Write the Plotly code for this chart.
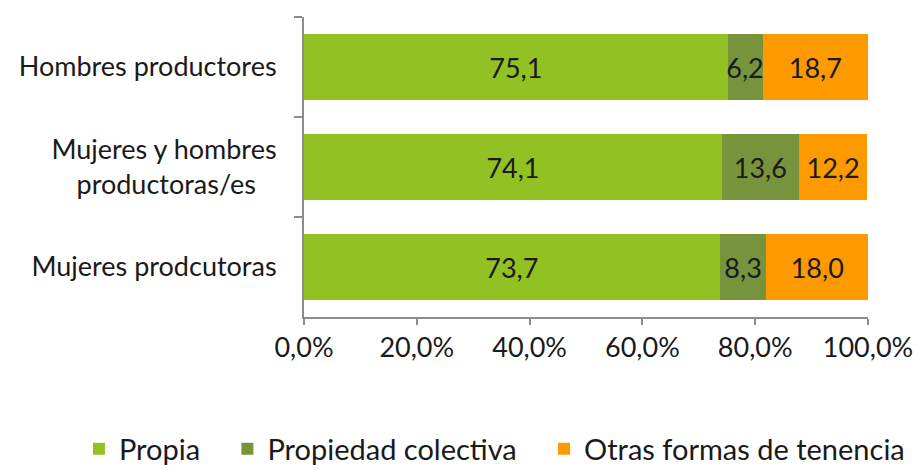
import plotly.graph_objects as go

categorias = ["Hombres productores",
              "Mujeres y hombres<br>productoras/es&nbsp;&nbsp;&nbsp;",
              "Mujeres prodcutoras"]
propia = [75.1, 74.1, 73.7]
colectiva = [6.2, 13.6, 8.3]
otras = [18.7, 12.2, 18.0]
x_ticks = [0, 20, 40, 60, 80, 100]
x_labels = ["0,0%", "20,0%", "40,0%", "60,0%", "80,0%", "100,0%"]

fuente = "Lato"
tam = 27
series = [
    ("Propia&nbsp;&nbsp;&nbsp;", propia, "#92C123"),
    ("Propiedad colectiva&nbsp;&nbsp;&nbsp;", colectiva, "#77933C"),
    ("Otras formas de tenencia", otras, "#FF9900"),
]

fig = go.Figure()
for nombre, valores, color in series:
    fig.add_trace(go.Bar(
        y=categorias, x=valores, name=nombre, orientation="h",
        marker=dict(color=color, line=dict(width=0)),
        texttemplate="%{x:.1f}", textposition="inside", textangle=0,
        insidetextanchor="middle", constraintext="none",
        textfont=dict(color="#1a1a1a", size=tam, family=fuente),
    ))

fig.update_layout(
    barmode="stack",
    bargap=0.34,
    separators=",.",
    width=920, height=470,
    margin=dict(l=304, r=52, t=17, b=153, autoexpand=False),
    plot_bgcolor="white", paper_bgcolor="white",
    font=dict(family=fuente, size=tam, color="#1a1a1a"),
    legend=dict(orientation="h", x=-0.399, xanchor="left", y=-0.44, yanchor="middle",
                font=dict(size=29), traceorder="normal", itemclick=False),
    showlegend=True,
)
fig.update_xaxes(
    range=[0, 100], tickvals=x_ticks, ticktext=x_labels, ticklabeloverflow="allow",
    showgrid=False, zeroline=False, showline=True, linecolor="#8c8c8c", linewidth=2,
    ticks="outside", ticklen=6, tickcolor="#8c8c8c", tickwidth=2, automargin=False,
)
fig.update_yaxes(
    autorange="reversed", showgrid=False, showline=True, linecolor="#8c8c8c", linewidth=2,
    ticks="outside", ticklen=8, tickcolor="#8c8c8c", tickwidth=2, tickson="boundaries",
    ticklabelstandoff=20, automargin=False,
)

# quitar el margen por defecto del <body> para que la figura ocupe toda la ventana
fig.write_html("out.html", config={"displayModeBar": False},
               post_script="document.body.style.margin='0';")
